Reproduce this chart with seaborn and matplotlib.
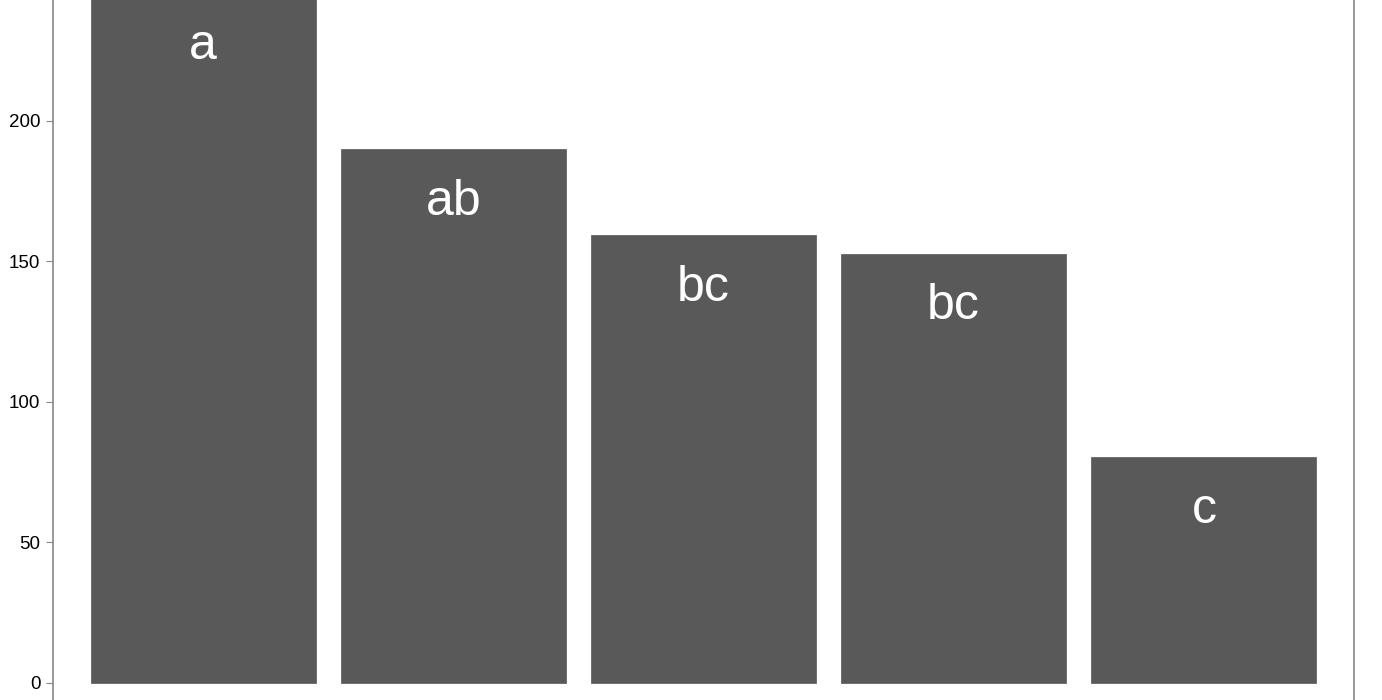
import matplotlib
matplotlib.use('Agg')
import matplotlib.pyplot as plt
import seaborn as sns
import pandas as pd
import numpy as np

# Values
groups = ['G1', 'G2', 'G3', 'G4', 'G5']
values = [245.5, 190.0, 159.4, 152.7, 80.4]
letters = ['a', 'ab', 'bc', 'bc', 'c']
y_ticks = [0, 50, 100, 150, 200]

df = pd.DataFrame({'group': groups, 'value': values, 'letter': letters})

sns.set_style('white')
plt.rcParams['font.family'] = ['Liberation Sans', 'DejaVu Sans']

fig = plt.figure(figsize=(13.82, 7), dpi=100, facecolor='white')
# panel runs off the top and bottom of the picture, as in the reference
ax = fig.add_axes([53 / 1382, 0, (1354 - 53) / 1382, 1])
ax.set_facecolor('white')

sns.barplot(data=df, x='group', y='value', color='#595959', saturation=1,
            width=0.9, edgecolor='#595959', linewidth=0.5, ax=ax)

# significance letters inside the bars
for i, row in df.iterrows():
    ax.text(i, row['value'] - 23.3, row['letter'], color='white',
            fontsize=36, ha='center', va='baseline')

ax.set_xlim(-0.6, 4.6)
ax.set_ylim(-6.05, 243.06)
ax.set_yticks(y_ticks)
ax.set_yticklabels([str(t) for t in y_ticks], fontsize=13.5, color='black')
ax.set_xticks([])
ax.set_xlabel('')
ax.set_ylabel('')
ax.tick_params(axis='y', length=5, width=0.8, color='#888888', pad=4, left=True)

for side in ['top', 'bottom']:
    ax.spines[side].set_visible(False)
for side in ['left', 'right']:
    ax.spines[side].set_visible(True)
    ax.spines[side].set_color('#888888')
    ax.spines[side].set_linewidth(1.2)

plt.savefig('out.png', dpi=100, facecolor='white')
